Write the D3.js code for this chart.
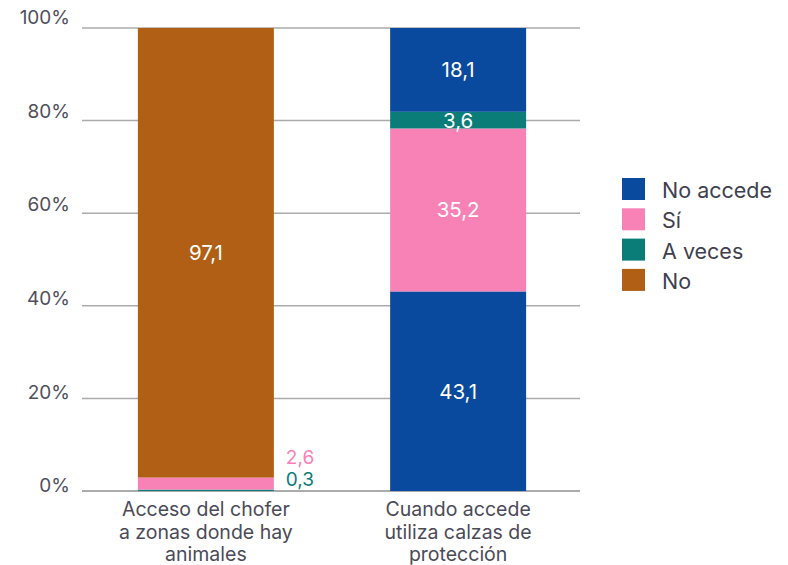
<!DOCTYPE html>
<html>
<head>
<meta charset="utf-8">
<script src="https://cdn.jsdelivr.net/npm/d3@7/dist/d3.min.js"></script>
<style>
  html, body { margin: 0; padding: 0; background: #fff; }
  svg { display: block; font-family: "Inter", "Liberation Sans", Arial, sans-serif; }
</style>
</head>
<body>
<svg id="chart" width="788" height="565"></svg>
<script>
// ---- Data ----
const categories = ["Acceso del chofer a zonas donde hay animales", "Cuando accede utiliza calzas de protección"];
const categoryLines = [["Acceso del chofer", "a zonas donde hay", "animales"], ["Cuando accede", "utiliza calzas de", "protección"]];
const legendNames = ["No accede", "Sí", "A veces", "No"];
const legendColors = ["#0a4a9e", "#f882b6", "#0a7d78", "#b05f14"];
// segments, bottom to top
const bar1Keys = ["A veces", "Sí", "No"];
const bar1Values = [0.3, 2.6, 97.1];
const bar2Keys = ["No accede", "Sí", "A veces", "No accede"];
const bar2Values = [43.1, 35.2, 3.6, 18.1];
const yTicks = [0, 20, 40, 60, 80, 100];

// ---- Layout ----
const svg = d3.select("#chart");
const colorOf = d3.scaleOrdinal().domain(legendNames).range(legendColors);
const y = d3.scaleLinear().domain([0, 100]).range([491, 28]);
const x = d3.scaleBand().domain(categories).range([21.6, 642.4]).paddingInner(0.461).paddingOuter(0.461);
const gridX0 = 82, gridX1 = 580;
const fmt = v => d3.format(".1f")(v).replace(".", ",");

// gridlines
svg.append("g").selectAll("line").data(yTicks).join("line")
  .attr("x1", gridX0).attr("x2", gridX1)
  .attr("y1", d => y(d)).attr("y2", d => y(d))
  .attr("stroke", d => d === 0 ? "#8f8f8f" : "#ababab")
  .attr("stroke-width", 1.5);

// y tick labels
svg.append("g").selectAll("text").data(yTicks).join("text")
  .attr("x", 70).attr("y", d => y(d) - 4 - (d / 100) * 5)
  .attr("text-anchor", "end").attr("dominant-baseline", "middle")
  .attr("font-size", 19).attr("fill", "#4f4f5c")
  .text(d => d + "%");

// build segments
const bars = [
  { cat: categories[0], keys: bar1Keys, values: bar1Values },
  { cat: categories[1], keys: bar2Keys, values: bar2Values }
];
const segs = [];
bars.forEach((b, bi) => {
  let acc = 0;
  b.values.forEach((v, i) => {
    segs.push({ bar: bi, cat: b.cat, key: b.keys[i], v: v, y0: acc, y1: acc + v });
    acc += v;
  });
});

svg.append("g").selectAll("rect").data(segs).join("rect")
  .attr("x", d => x(d.cat))
  .attr("width", x.bandwidth())
  .attr("y", d => y(d.y1))
  .attr("height", d => y(d.y0) - y(d.y1))
  .attr("fill", d => colorOf(d.key));

// value labels inside
const inside = segs.filter(d => d.v >= 3);
svg.append("g").selectAll("text").data(inside).join("text")
  .attr("x", d => x(d.cat) + x.bandwidth() / 2)
  .attr("y", d => y((d.y0 + d.y1) / 2))
  .attr("text-anchor", "middle").attr("dominant-baseline", "central")
  .attr("font-size", 20.5).attr("fill", "#ffffff")
  .text(d => fmt(d.v));

// small labels outside (stacked to the right of bar 1)
const outside = segs.filter(d => d.v < 3);
svg.append("g").selectAll("text").data(outside).join("text")
  .attr("x", d => x(d.cat) + x.bandwidth() + 12)
  .attr("y", (d, i) => y(0) - 12 - i * 22)
  .attr("dominant-baseline", "central")
  .attr("font-size", 19).attr("fill", d => colorOf(d.key))
  .text(d => fmt(d.v));

// x category labels
const xl = svg.append("g").selectAll("text").data(categories).join("text")
  .attr("x", d => x(d) + x.bandwidth() / 2)
  .attr("text-anchor", "middle")
  .attr("font-size", 19.5).attr("fill", "#4a4a58");
xl.each(function(d, i) {
  const t = d3.select(this);
  categoryLines[i].forEach((ln, j) => {
    t.append("tspan").attr("x", x(d) + x.bandwidth() / 2).attr("y", 516 + j * 22.5).text(ln);
  });
});

// legend
const lg = svg.append("g").attr("transform", "translate(622,178)");
const items = lg.selectAll("g").data(legendNames).join("g")
  .attr("transform", (d, i) => `translate(0,${i * 30.3})`);
items.append("rect").attr("width", 23).attr("height", 22).attr("fill", d => colorOf(d));
items.append("text").attr("x", 40).attr("y", 12).attr("dominant-baseline", "central")
  .attr("font-size", 21.5).attr("fill", "#3f3f4e").text(d => d);
</script>
</body>
</html>
